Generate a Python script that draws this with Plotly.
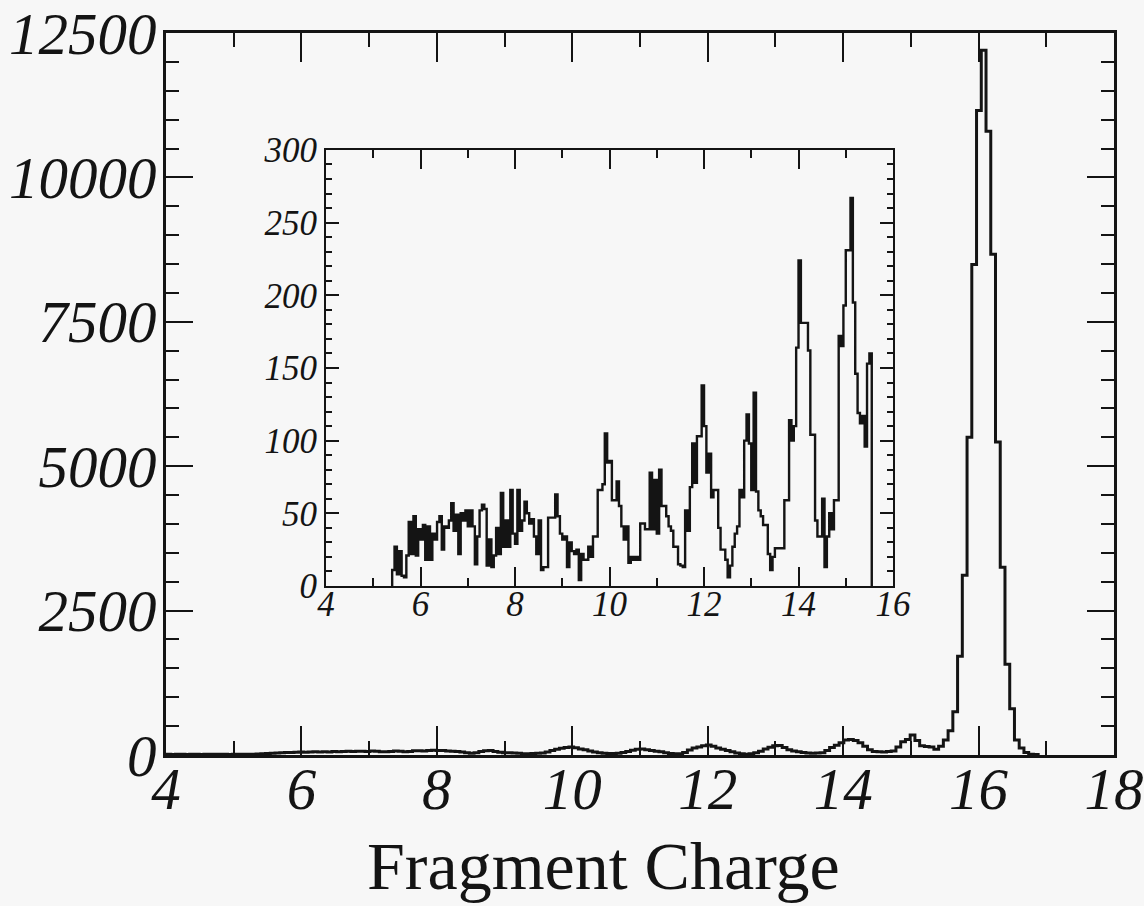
import numpy as np
import plotly.graph_objects as go

# ---------------- data ----------------
# main histogram: bins of width 0.07 starting at charge 4.0
main_start = 4.0
main_width = 0.07
main_counts = [
    12, 10, 14, 11, 9, 13, 12, 10, 15, 12, 11, 14, 13, 10, 12, 15, 13, 11, 14, 16,
    20, 25, 30, 35, 40, 45, 42, 48, 50, 46, 52, 55, 50, 58, 54, 60, 57, 62, 65, 60,
    63, 66, 60, 68, 64, 58, 55, 62, 70, 66, 58, 60, 72, 75, 70, 78, 82, 80,
    76, 70, 66, 62, 50, 38, 30, 40, 62, 72, 76, 60, 48, 40,
    38, 34, 30, 22, 20, 26, 30, 36, 52, 80, 100, 118, 132, 140,
    125, 105, 90, 70, 52, 40, 30, 26, 28, 30, 45, 60, 82, 98, 104,
    92, 76, 66, 55, 40, 28, 22, 20, 45, 85, 120, 140, 160, 175,
    150, 120, 100, 80, 55, 35, 22, 15, 20, 38, 65, 105, 135, 160,
    165, 130, 90, 70, 55, 42, 35, 30, 34, 40, 80, 130, 170, 210, 260,
    270, 250, 210, 150, 90, 62, 55, 50, 60, 70, 140, 230, 270, 345, 250,
    160, 145, 140, 100, 150, 260, 420,
    750, 1710, 3110, 5500, 8490, 11160, 12200, 10800, 8670, 5420, 3250, 1570,
    800, 260, 120, 45, 15, 8,
]

# inset histogram: bins of width 0.05 starting at charge 5.40
inset_start = 5.40
inset_width = 0.05
inset_counts = [
    11, 27, 8, 24, 7, 6, 21, 44, 22, 48, 21, 39, 32, 42, 18, 41, 18, 36, 32, 44,
    48, 25, 41, 40, 45, 57, 38, 49, 22, 50, 45, 52, 41, 52, 41, 15, 34, 52, 56, 53,
    14, 32, 13, 21, 40, 22, 64, 27, 45, 27, 66, 36, 29, 66, 38, 45, 58, 50, 43, 46,
    34, 22, 45, 11, 13, 13, 47, 47, 47, 63, 48, 36, 32, 34, 13, 30, 24, 22, 25, 4,
    22, 18, 18, 27, 20, 34, 34, 66, 66, 70, 105, 85, 86, 59, 59, 72, 55, 41, 32, 41,
    16, 20, 18, 20, 18, 43, 43, 39, 39, 78, 39, 73, 36, 80, 55, 55, 48, 41, 38, 27,
    27, 15, 14, 13, 52, 38, 68, 98, 71, 103, 103, 138, 110, 78, 91, 61, 66, 66, 40, 25,
    25, 18, 6, 14, 27, 36, 41, 66, 61, 100, 118, 98, 66, 133, 65, 52, 48, 42, 42, 22,
    11, 20, 26, 26, 26, 26, 59, 59, 114, 100, 110, 164, 224, 181, 181, 181, 162, 104, 104, 45,
    34, 34, 60, 13, 34, 50, 39, 59, 59, 172, 165, 193, 231, 231, 267, 195, 146, 119, 112, 117,
    96, 153, 160,
]

main_xticks = [4, 6, 8, 10, 12, 14, 16, 18]
main_yticks = [0, 2500, 5000, 7500, 10000, 12500]
inset_xticks = [4, 6, 8, 10, 12, 14, 16]
inset_yticks = [0, 50, 100, 150, 200, 250, 300]


def step_outline(start, width, counts):
    n = len(counts)
    edges = start + width * np.arange(n + 1)
    x = np.concatenate([[edges[0]], edges, [edges[-1]]])
    y = np.concatenate([[0], counts, [counts[-1]], [0]])
    return x, y


INK = "#141414"
BG = "#f7f7f7"
SERIF = "Liberation Serif"

mx, my = step_outline(main_start, main_width, main_counts)
ix, iy = step_outline(inset_start, inset_width, inset_counts)

fig = go.Figure()
fig.add_trace(go.Scatter(x=mx, y=my, mode="lines",
                         line=dict(shape="hv", color=INK, width=3),
                         xaxis="x", yaxis="y", showlegend=False, hoverinfo="skip"))
fig.add_trace(go.Scatter(x=ix, y=iy, mode="lines",
                         line=dict(shape="hv", color=INK, width=2.4),
                         xaxis="x2", yaxis="y2", showlegend=False, hoverinfo="skip"))


def axis(rng, tickvals, ticklen, minor_dtick, minor_len, fsize, domain, anchor, lw, standoff):
    return dict(
        range=rng, domain=domain, anchor=anchor, automargin=False,
        tickmode="array", tickvals=tickvals, ticktext=[str(v) for v in tickvals],
        ticks="inside", ticklen=ticklen, tickwidth=2, tickcolor=INK,
        minor=dict(ticks="inside", dtick=minor_dtick, tick0=rng[0], ticklen=minor_len,
                   tickwidth=2, tickcolor=INK, showgrid=False),
        showline=True, linewidth=lw, linecolor=INK, mirror="allticks",
        showgrid=False, zeroline=False,
        ticklabeloverflow="allow", ticklabelstandoff=standoff,
        tickfont=dict(family=SERIF, size=fsize, style="italic", color=INK),
    )


fig.update_layout(
    width=1144, height=906, autosize=False,
    margin=dict(l=166, r=30, t=33, b=151),
    paper_bgcolor=BG, plot_bgcolor=BG,
    xaxis=axis([4, 18], main_xticks, 29, 1, 14, 59, [0, 1], "y", 2.5, -20),
    yaxis=axis([0, 12500], main_yticks, 27, 500, 13, 59, [0, 1], "x", 2.5, -5),
    xaxis2=axis([4, 16], inset_xticks, 19, 1, 8, 35, [0.1688, 0.7669], "y2", 2, -14),
    yaxis2=axis([0, 300], inset_yticks, 13, 10, 6, 35, [0.2341, 0.8380], "x2", 2, 0),
    annotations=[dict(text="Fragment Charge", xref="paper", yref="paper",
                      x=0.4615, y=-0.1537, xanchor="center", yanchor="middle",
                      showarrow=False,
                      font=dict(family=SERIF, size=68, color=INK))],
)

fig.write_html("out.html")
